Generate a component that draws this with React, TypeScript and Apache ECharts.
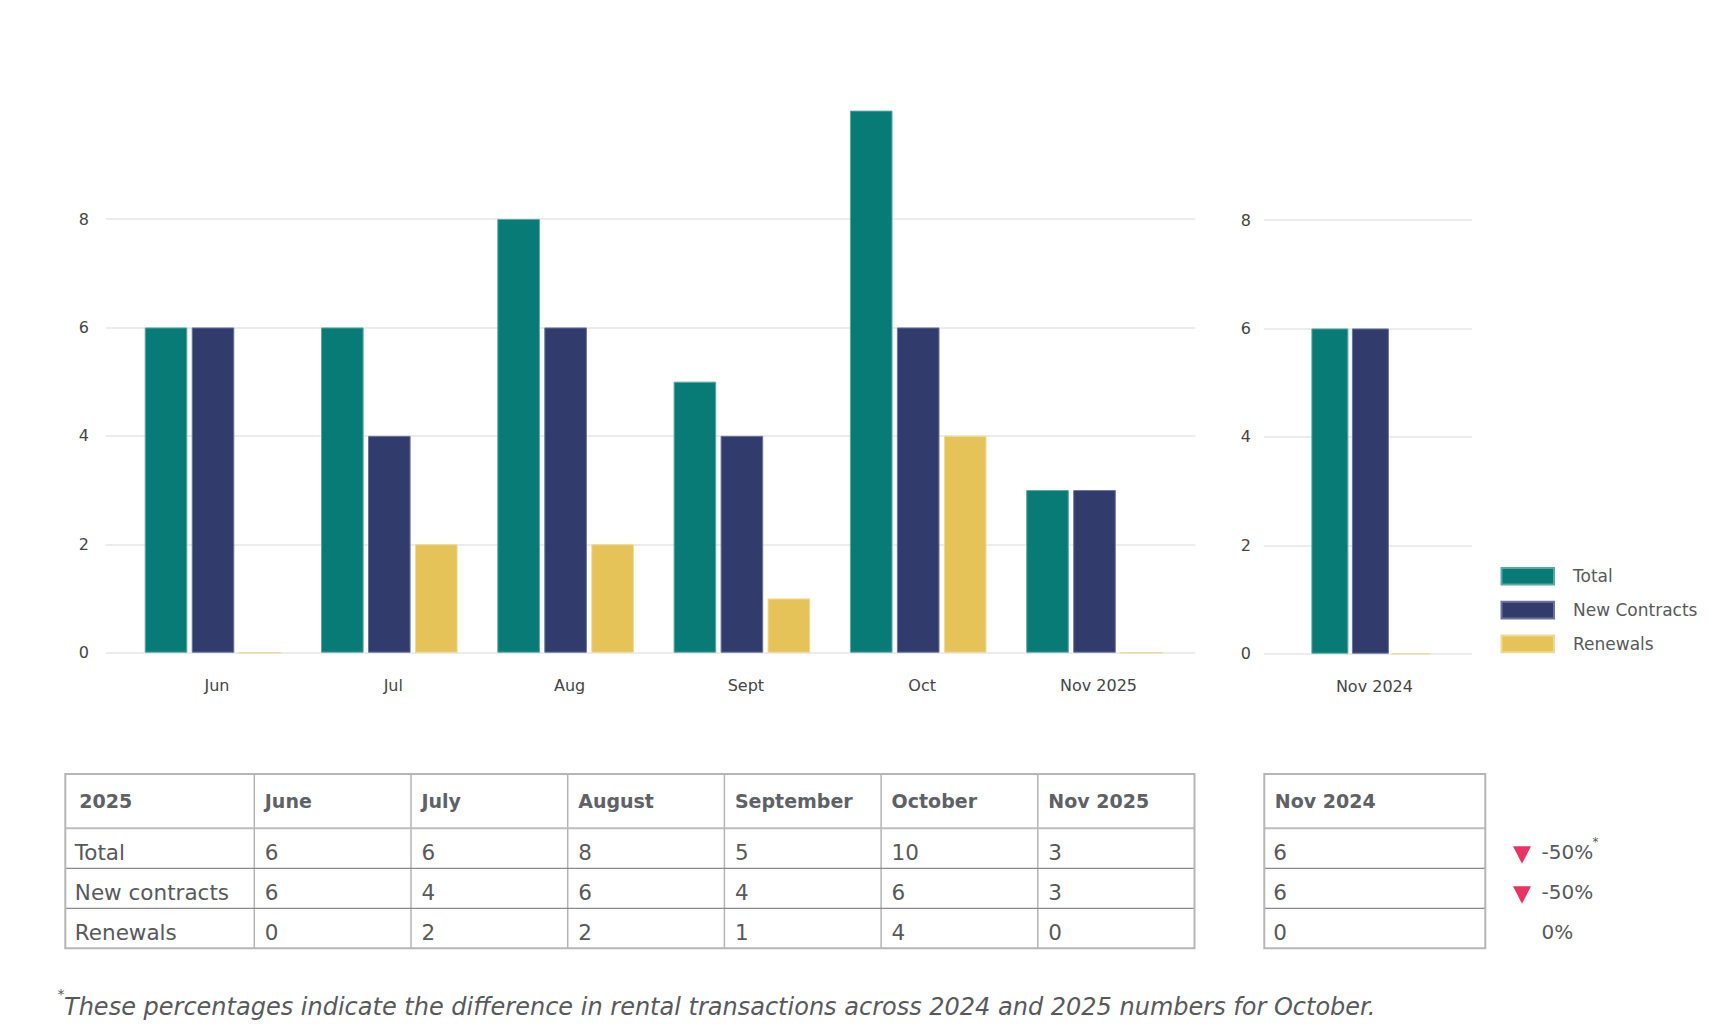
import React, { useEffect, useRef } from 'react';
import * as echarts from 'echarts';

// ---------- data ----------
const months = ['Jun', 'Jul', 'Aug', 'Sept', 'Oct', 'Nov 2025'];
const prevMonth = ['Nov 2024'];
const seriesNames = ['Total', 'New Contracts', 'Renewals'];
const totalValues = [6, 6, 8, 5, 10, 3];
const newContractValues = [6, 4, 6, 4, 6, 3];
const renewalValues = [0, 2, 2, 1, 4, 0];
const prevTotalValues = [6];
const prevNewContractValues = [6];
const prevRenewalValues = [0];
const yTickValues = [0, 2, 4, 6, 8, 10];

const tableHeaders = ['2025', 'June', 'July', 'August', 'September', 'October', 'Nov 2025'];
const tableRowLabels = ['Total', 'New contracts', 'Renewals'];
const prevTableHeader = 'Nov 2024';
const changeLabels = ['-50%', '-50%', '0%'];
const changeIsDown = [true, true, false];
const changeHasStar = [true, false, false];
const footnoteText =
  'These percentages indicate the difference in rental transactions across 2024 and 2025 numbers for October.';

// ---------- style ----------
const FONT = 'DejaVu Sans';
const COLORS = ['#087b76', '#313c6d', '#e6c358'];
const BORDERS = ['#5aa7a3', '#6b739e', '#efd994'];
const GRID_COLOR = '#ececec';
const AXIS_TEXT = '#454545';

const PLOT_TOP = 110.6;
const PLOT_H = 542.1;

const TABLE_TOP = 774;
const HEADER_H = 54.3;
const ROW_H = 40;
const T1_LEFT = 65.3;
const FIRST_COL_W = 189;
const COL_W = 156.7;
const T2_LEFT = 1264.3;
const T2_W = 221;

function buildTableGraphics(): any[] {
  const els: any[] = [];
  const tableH = HEADER_H + ROW_H * tableRowLabels.length;
  const bodyRows = [totalValues, newContractValues, renewalValues];
  const prevRows = [prevTotalValues, prevNewContractValues, prevRenewalValues];
  const t1W = FIRST_COL_W + COL_W * (tableHeaders.length - 1);
  const colLeft = (c: number) => (c === 0 ? T1_LEFT : T1_LEFT + FIRST_COL_W + COL_W * (c - 1));

  const addTableFrame = (left: number, width: number, colXs: number[]) => {
    colXs.forEach((x) => {
      els.push({ type: 'line', shape: { x1: x, y1: TABLE_TOP, x2: x, y2: TABLE_TOP + tableH }, style: { stroke: '#b4b4b4', lineWidth: 1.5 } });
    });
    els.push({ type: 'line', shape: { x1: left, y1: TABLE_TOP + HEADER_H, x2: left + width, y2: TABLE_TOP + HEADER_H }, style: { stroke: '#bdbdbd', lineWidth: 2 } });
    for (let r = 1; r < tableRowLabels.length; r++) {
      const y = TABLE_TOP + HEADER_H + ROW_H * r;
      els.push({ type: 'line', shape: { x1: left, y1: y, x2: left + width, y2: y }, style: { stroke: '#8c8c8c', lineWidth: 1.3 } });
    }
    els.push({ type: 'rect', shape: { x: left, y: TABLE_TOP, width, height: tableH }, style: { fill: 'none', stroke: '#b6b6b6', lineWidth: 2 } });
  };

  const innerCols: number[] = [];
  for (let c = 1; c < tableHeaders.length; c++) innerCols.push(colLeft(c));
  addTableFrame(T1_LEFT, t1W, innerCols);
  addTableFrame(T2_LEFT, T2_W, []);

  const headerY = TABLE_TOP + HEADER_H / 2;
  const headStyle = { fill: '#5e6166', fontSize: 19, fontWeight: 'bold', fontFamily: FONT, align: 'left', verticalAlign: 'middle' };
  const bodyStyle = { fill: '#58595b', fontSize: 21.5, fontFamily: FONT, align: 'left', verticalAlign: 'middle' };
  const changeStyle = { ...bodyStyle, fontSize: 20 };

  tableHeaders.forEach((h, c) => {
    els.push({ type: 'text', x: colLeft(c) + (c === 0 ? 14 : 10.5), y: headerY, style: { ...headStyle, text: h } });
  });
  els.push({ type: 'text', x: T2_LEFT + 10.5, y: headerY, style: { ...headStyle, text: prevTableHeader } });

  tableRowLabels.forEach((label, r) => {
    const y = TABLE_TOP + HEADER_H + ROW_H * r + ROW_H / 2 + 4;
    els.push({ type: 'text', x: T1_LEFT + 9.5, y, style: { ...bodyStyle, text: label } });
    bodyRows[r].forEach((v, i) => {
      els.push({ type: 'text', x: colLeft(i + 1) + 10.5, y, style: { ...bodyStyle, text: String(v) } });
    });
    els.push({ type: 'text', x: T2_LEFT + 9, y, style: { ...bodyStyle, text: String(prevRows[r][0]) } });

    const rowMid = TABLE_TOP + HEADER_H + ROW_H * r + ROW_H / 2;
    if (changeIsDown[r]) {
      els.push({
        type: 'polygon',
        shape: { points: [[1513, rowMid - 2], [1531, rowMid - 2], [1522, rowMid + 15.5]] },
        style: { fill: '#ea3362' },
      });
    }
    els.push({ type: 'text', x: 1541.5, y: y - 0.5, style: { ...changeStyle, text: changeLabels[r] } });
    if (changeHasStar[r]) {
      els.push({ type: 'text', x: 1592.5, y: rowMid - 6, style: { ...changeStyle, fontSize: 12, text: '*' } });
    }
  });

  // footnote
  els.push({ type: 'text', x: 57.5, y: 994, style: { fill: '#58595b', fontSize: 14, fontFamily: FONT, align: 'left', verticalAlign: 'middle', text: '*' } });
  els.push({
    type: 'text',
    x: 64,
    y: 1007,
    style: { fill: '#58595b', fontSize: 24, fontStyle: 'italic', fontFamily: FONT, align: 'left', verticalAlign: 'middle', text: footnoteText },
  });
  return els;
}

function buildOption(): any {
  const yMin = yTickValues[0];
  const yMax = yTickValues[yTickValues.length - 1];
  const yStep = yTickValues[1] - yTickValues[0];
  const yLabel = (margin: number) => ({
    show: true,
    margin,
    showMaxLabel: false,
    color: AXIS_TEXT,
    fontSize: 16,
    fontFamily: FONT,
  });
  const catLabel = { margin: 25, color: AXIS_TEXT, fontSize: 16, fontFamily: FONT, padding: [0, 0, 0, 8] };
  const mainData = [totalValues, newContractValues, renewalValues];
  const prevData = [prevTotalValues, prevNewContractValues, prevRenewalValues];

  const series: any[] = [];
  seriesNames.forEach((name, i) => {
    series.push({
      type: 'bar',
      name,
      xAxisIndex: 1,
      yAxisIndex: 1,
      data: mainData[i],
      barWidth: 42.6,
      barGap: '10.3%',
      itemStyle: { color: COLORS[i], borderColor: BORDERS[i], borderWidth: 1 },
    });
  });
  seriesNames.forEach((name, i) => {
    series.push({
      type: 'bar',
      name,
      xAxisIndex: 3,
      yAxisIndex: 3,
      data: prevData[i],
      barWidth: 37,
      barGap: '9.5%',
      itemStyle: { color: COLORS[i], borderColor: BORDERS[i], borderWidth: 1 },
    });
  });

  const valueAxisHidden = (gridIndex: number) => ({
    gridIndex,
    type: 'value',
    min: yMin,
    max: yMax,
    interval: yStep,
    show: false,
    splitLine: { show: false },
  });
  const valueAxisShown = (gridIndex: number, margin: number) => ({
    gridIndex,
    type: 'value',
    min: yMin,
    max: yMax,
    interval: yStep,
    axisLine: { show: false },
    axisTick: { show: false },
    axisLabel: yLabel(margin),
    splitLine: { show: true, showMaxLine: false, lineStyle: { color: GRID_COLOR, width: 2 } },
  });

  return {
    animation: false,
    backgroundColor: '#ffffff',
    textStyle: { fontFamily: FONT },
    grid: [
      { left: 105.7, top: PLOT_TOP, width: 1089.6, height: PLOT_H },
      { left: 124.85, top: PLOT_TOP, width: 1057.8, height: PLOT_H },
      { left: 1264, top: PLOT_TOP + 1, width: 208, height: PLOT_H },
      { left: 1266.4, top: PLOT_TOP + 1, width: 208, height: PLOT_H },
    ],
    xAxis: [
      { gridIndex: 0, type: 'category', data: months, show: false },
      {
        gridIndex: 1,
        type: 'category',
        data: months,
        axisLine: { show: false },
        axisTick: { show: false },
        axisLabel: catLabel,
        splitLine: { show: false },
      },
      { gridIndex: 2, type: 'category', data: prevMonth, show: false },
      {
        gridIndex: 3,
        type: 'category',
        data: prevMonth,
        axisLine: { show: false },
        axisTick: { show: false },
        axisLabel: catLabel,
        splitLine: { show: false },
      },
    ],
    yAxis: [valueAxisShown(0, 16.7), valueAxisHidden(1), valueAxisShown(2, 13), valueAxisHidden(3)],
    legend: {
      show: true,
      data: seriesNames,
      orient: 'vertical',
      left: 1500.5,
      top: 567,
      padding: 0,
      icon: 'rect',
      itemWidth: 52.5,
      itemHeight: 16.6,
      itemGap: 15.2,
      selectedMode: false,
      textStyle: { color: '#58595b', fontSize: 17, fontFamily: FONT, lineHeight: 17, padding: [0, 0, 0, 14] },
    },
    series,
    graphic: buildTableGraphics(),
  };
}

export default function App() {
  const ref = useRef<HTMLDivElement>(null);
  useEffect(() => {
    document.body.style.margin = '0';
    if (!ref.current) return;
    const chart = echarts.init(ref.current, undefined, { renderer: 'svg' });
    chart.setOption(buildOption());
    return () => chart.dispose();
  }, []);
  return <div ref={ref} style={{ width: 1732, height: 1030, position: 'absolute', left: 0, top: 0, background: '#fff' }} />;
}
